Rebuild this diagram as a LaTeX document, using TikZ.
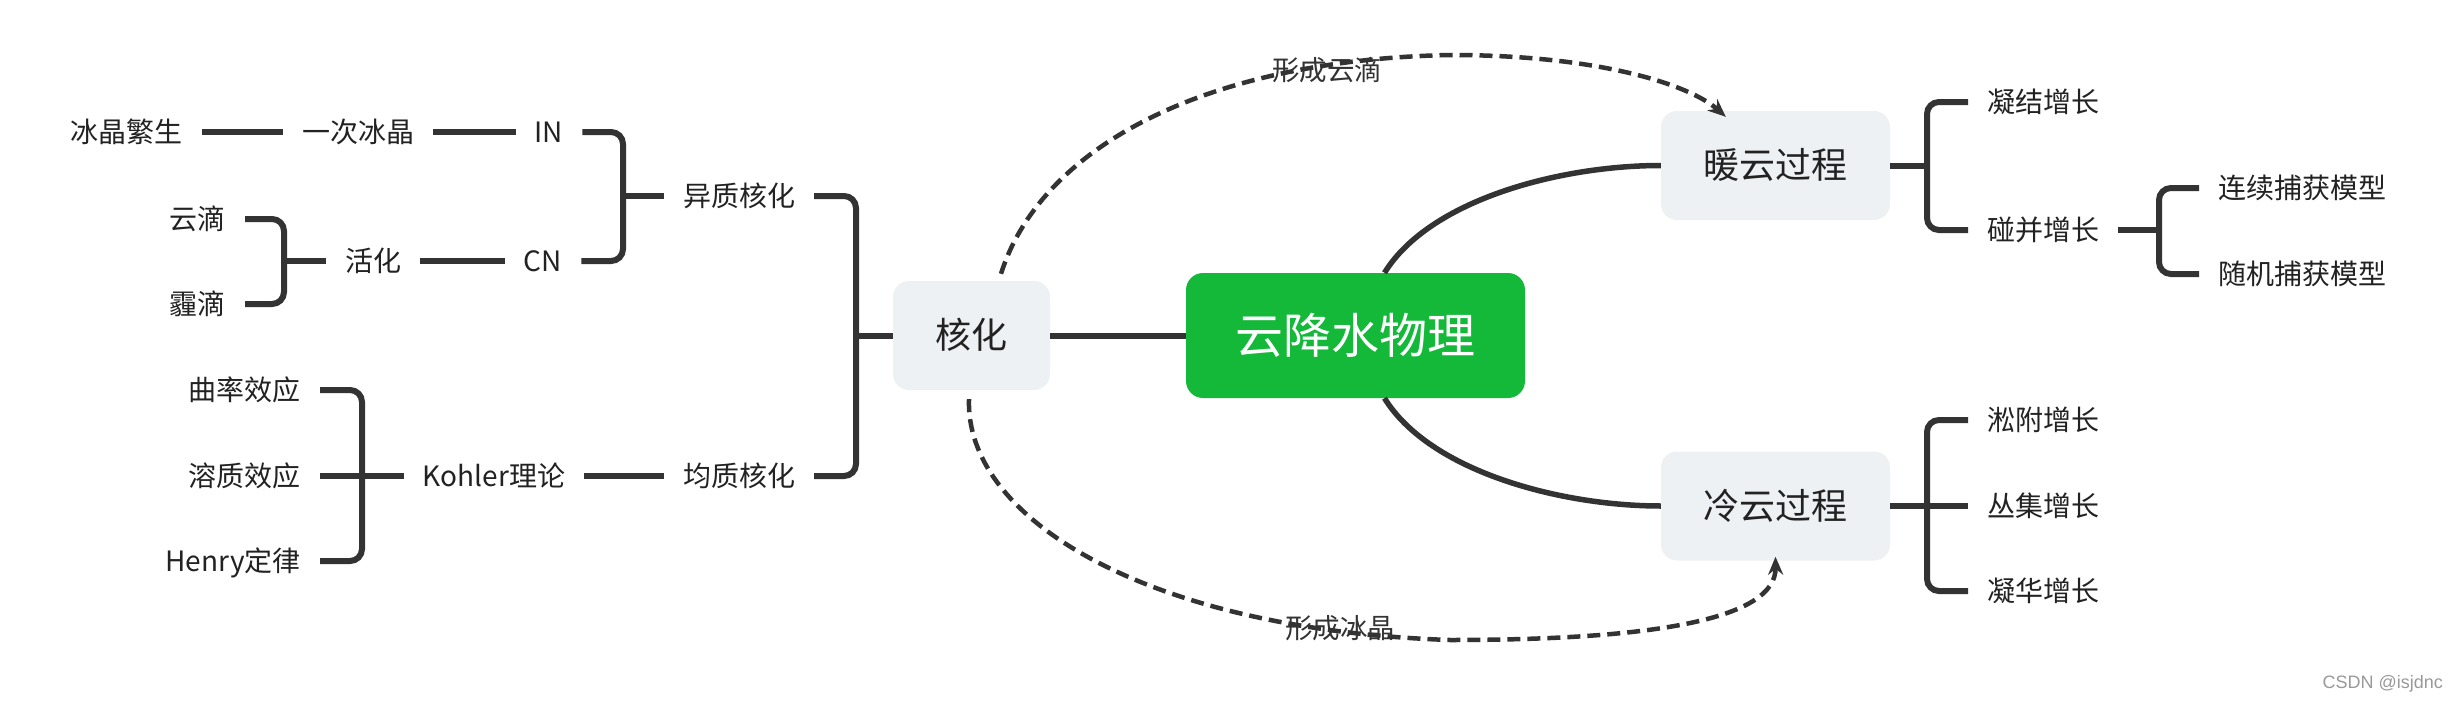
\documentclass[tikz,border=0pt]{standalone}
\usepackage{fontspec}
\newfontfamily\cjk{Noto Sans CJK SC}
\newfontfamily\wmfont{Liberation Sans}
\usetikzlibrary{arrows.meta,calc}
\definecolor{lc}{HTML}{333333}
\definecolor{tc}{HTML}{222222}
\definecolor{boxc}{HTML}{EEF1F4}
\definecolor{rootc}{HTML}{14B93A}
\begin{document}
\begin{tikzpicture}[x=1pt,y=-1pt,
  conn/.style={draw=lc,line width=6pt},
  brk/.style={draw=lc,line width=6pt,rounded corners=12pt},
  curv/.style={draw=lc,line width=5.5pt},
  dsh/.style={draw=lc,line width=4.5pt,dash pattern=on 13pt off 7pt,-{Stealth[length=18pt,width=15pt]}},
  leaf/.style={font=\cjk\fontsize{28}{30}\selectfont,text=tc,inner xsep=19pt,inner ysep=0pt,text height=23.5pt,text depth=3pt},
  lbl/.style={font=\cjk\fontsize{27.5}{30}\selectfont,text=lc,inner sep=0pt},
  topic/.style={fill=boxc,rounded corners=16pt,font=\cjk\fontsize{36}{40}\selectfont,text=tc,minimum height=109pt,inner sep=0pt,text height=30pt,text depth=4pt},
  rootbox/.style={fill=rootc,rounded corners=17pt,font=\cjk\fontsize{48}{52}\selectfont,text=white,minimum width=339pt,minimum height=125pt,inner sep=0pt,text height=40pt,text depth=5pt}]
\fill[white] (0,0) rectangle (2458,704);

% central and topic nodes
\node[rootbox] (root) at (1355.5,335.5) {云降水物理};
\node[topic,minimum width=157pt] (hh) at (971.5,335.5) {核化};
\node[topic,minimum width=229pt] (warm) at (1775.5,165.5) {暖云过程};
\node[topic,minimum width=229pt] (cold) at (1775.5,506) {冷云过程};

% left leaves
\node[leaf,anchor=east] (bjfs) at (202,132) {冰晶繁生};
\node[leaf] (ycbj) at (358,132) {一次冰晶};
\node[leaf] (in) at (549,132) {IN};
\node[leaf] (yzhh) at (739,196) {异质核化};
\node[leaf,anchor=east] (yd) at (245,219) {云滴};
\node[leaf,anchor=east] (md) at (245,304) {霾滴};
\node[leaf] (hua) at (373,261) {活化};
\node[leaf] (cn) at (543,261) {CN};
\node[leaf,anchor=east] (ql) at (320,390) {曲率效应};
\node[leaf,anchor=east] (rz) at (320,476) {溶质效应};
\node[leaf,anchor=east] (henry) at (320,561) {Henry定律};
\node[leaf] (kohler) at (494,476) {Kohler理论};
\node[leaf] (jzhh) at (739,476) {均质核化};

% right leaves
\node[leaf,anchor=west] (njzz) at (1968,102) {凝结增长};
\node[leaf,anchor=west] (pbzz) at (1968,230) {碰并增长};
\node[leaf,anchor=west] (lx) at (2199,188) {连续捕获模型};
\node[leaf,anchor=west] (sj) at (2199,274) {随机捕获模型};
\node[leaf,anchor=west] (sfzz) at (1968,420) {淞附增长};
\node[leaf,anchor=west] (cjzz) at (1968,506) {丛集增长};
\node[leaf,anchor=west] (nhzz) at (1968,591) {凝华增长};

% bracket joints
\coordinate (b1) at (623,196);
\coordinate (b2) at (284,261);
\coordinate (b3) at (362,476);
\coordinate (b4) at (856,335.5);
\coordinate (b5) at (1927,165.5);
\coordinate (b6) at (2159,230);
\coordinate (b7) at (1927,506);

% left connectors
\draw[conn] (bjfs.east) -- (ycbj.west);
\draw[conn] (ycbj.east) -- (in.west);
\draw[conn] (hua.east) -- (cn.west);
\draw[conn] (kohler.east) -- (jzhh.west);
\draw[brk] (in.east) -| (b1) |- (cn.east);
\draw[conn] (b1) -- (yzhh.west);
\draw[brk] (yd.east) -| (b2) |- (md.east);
\draw[conn] (b2) -- (hua.west);
\draw[brk] (ql.east) -| (b3) |- (henry.east);
\draw[conn] (rz.east) -- (kohler.west);
\draw[brk] (yzhh.east) -| (b4) |- (jzhh.east);
\draw[conn] (b4) -- (hh.west);
\draw[conn] (hh.east) -- (root.west);

% right connectors
\draw[brk] (njzz.west) -| (b5) |- (pbzz.west);
\draw[conn] (warm.east) -- (b5);
\draw[brk] (lx.west) -| (b6) |- (sj.west);
\draw[conn] (pbzz.east) -- (b6);
\draw[brk] (sfzz.west) -| (b7) |- (nhzz.west);
\draw[conn] (cold.east) -- (cjzz.west);

% main curves
\draw[curv] ($(root.north)+(29,0)$) .. controls ($(root.north)+(74,-73)$) and ($(warm.west)+(-101,0)$) .. (warm.west);
\draw[curv] ($(root.south)+(29,0)$) .. controls ($(root.south)+(74,73)$) and ($(cold.west)+(-101,0)$) .. (cold.west);

% dashed relations
\coordinate (s1) at ($(hh.north)+(29.5,-7)$);
\coordinate (t1) at ($(warm.north west)+(65,6)$);
\coordinate (s2) at ($(hh.south)+(-2.5,9)$);
\coordinate (t2) at ($(cold.south)+(0,-4)$);
\draw[dsh] (s1) .. controls (1040,150) and (1200,60) .. (1450,55) .. controls (1600,55) and (1690,85) .. (t1);
\draw[dsh] (s2) .. controls (965,520) and (1150,630) .. (1450,640) .. controls (1650,640) and (1776,620) .. (t2);
\node[lbl] (l1) at (1327,70) {形成云滴};
\node[lbl] (l2) at (1340,628) {形成冰晶};

% watermark
\node[anchor=east,font=\wmfont\fontsize{18}{20}\selectfont,text=black!40,inner sep=0pt] (wm) at (2443,684) {CSDN @isjdnc};
\end{tikzpicture}
\end{document}
